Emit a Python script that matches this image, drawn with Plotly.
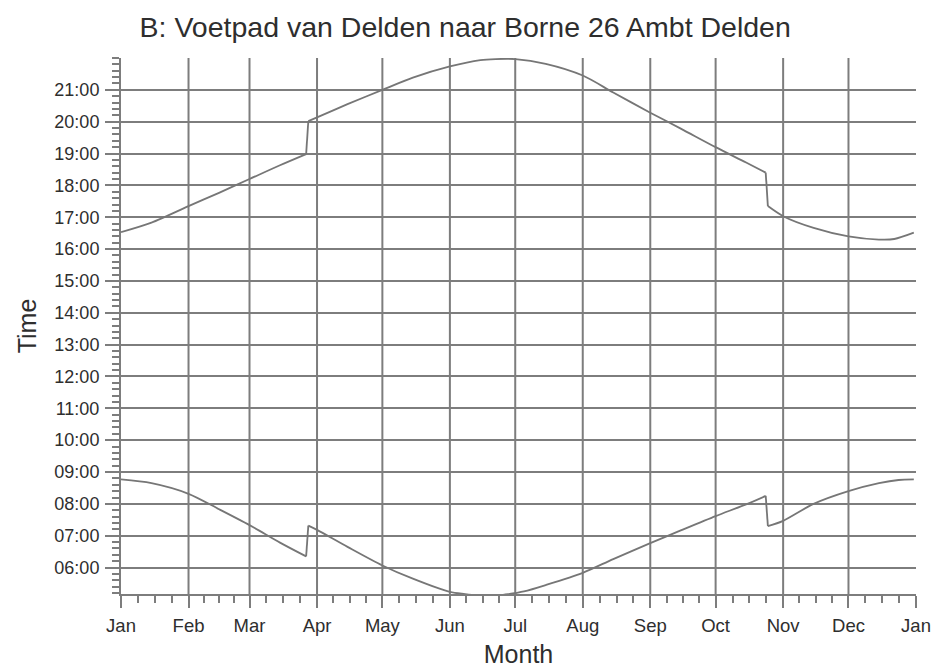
import pandas as pd
import plotly.graph_objects as go

# ---- data (times as HH:MM local clock time) ----
sunset_dates = ["2005-01-01", "2005-01-15", "2005-02-01", "2005-02-15", "2005-03-01",
                "2005-03-15", "2005-03-27", "2005-03-28", "2005-04-01", "2005-04-15",
                "2005-05-01", "2005-05-15", "2005-06-01", "2005-06-15", "2005-06-22",
                "2005-07-01", "2005-07-15", "2005-08-01", "2005-08-15", "2005-09-01",
                "2005-09-15", "2005-10-01", "2005-10-15", "2005-10-24", "2005-10-25",
                "2005-11-01", "2005-11-15", "2005-12-01", "2005-12-15", "2005-12-22",
                "2005-12-31"]
sunset_times = ["16:32", "16:50", "17:21", "17:46", "18:12",
                "18:38", "18:59", "20:01", "20:08", "20:33",
                "21:00", "21:23", "21:44", "21:56", "21:58",
                "21:58", "21:49", "21:27", "20:55", "20:17",
                "19:47", "19:12", "18:43", "18:24", "17:21",
                "17:02", "16:40", "16:24", "16:18", "16:19",
                "16:31"]

sunrise_dates = ["2005-01-01", "2005-01-15", "2005-02-01", "2005-02-15", "2005-03-01",
                 "2005-03-15", "2005-03-27", "2005-03-28", "2005-04-01", "2005-04-15",
                 "2005-05-01", "2005-05-15", "2005-06-01", "2005-06-08", "2005-06-15",
                 "2005-06-22", "2005-06-28", "2005-07-01", "2005-07-05", "2005-07-15",
                 "2005-08-01", "2005-08-15", "2005-09-01", "2005-09-15", "2005-10-01",
                 "2005-10-15", "2005-10-24", "2005-10-25", "2005-11-01", "2005-11-15",
                 "2005-12-01", "2005-12-15", "2005-12-24", "2005-12-31"]
sunrise_times = ["08:46", "08:39", "08:19", "07:50", "07:20",
                 "06:47", "06:21", "07:19", "07:11", "06:39",
                 "06:04", "05:39", "05:14", "05:10", "05:07",
                 "05:07", "05:10", "05:12", "05:15", "05:27",
                 "05:50", "06:16", "06:46", "07:10", "07:37",
                 "07:59", "08:15", "07:18", "07:28", "08:00",
                 "08:24", "08:39", "08:45", "08:46"]

hour_ticks = list(range(6, 22))
hour_labels = [f"{h:02d}:00" for h in hour_ticks]

title_text = "B: Voetpad van Delden naar Borne 26 Ambt Delden"


def to_hours(t):
    h, m = t.split(":")
    return int(h) + int(m) / 60.0


months = pd.date_range("2005-01-01", "2006-01-01", freq="MS")
# minor x ticks: each month split in four
minor_x = []
for a, b in zip(months[:-1], months[1:]):
    for k in (1, 2, 3):
        minor_x.append(a + (b - a) * k / 4)

line_col = "#767676"
grid_col = "#7d7d7d"
text_col = "#2e2e2e"

fig = go.Figure()


def add_curve(dates, times):
    """Smooth segments between the clock-change jumps, straight jump lines."""
    d = pd.to_datetime(dates)
    v = [to_hours(t) for t in times]
    cuts = [0]
    for i in range(1, len(v)):
        if (d[i] - d[i - 1]).days == 1 and abs(v[i] - v[i - 1]) > 0.5:
            cuts.append(i)
    cuts.append(len(v))
    for a, b in zip(cuts[:-1], cuts[1:]):
        fig.add_trace(go.Scatter(x=d[a:b], y=v[a:b], mode="lines",
                                 line=dict(color=line_col, width=1.8,
                                           shape="spline", smoothing=0.8),
                                 hoverinfo="skip"))
    for c in cuts[1:-1]:
        fig.add_trace(go.Scatter(x=d[c - 1:c + 1], y=v[c - 1:c + 1], mode="lines",
                                 line=dict(color=line_col, width=1.8),
                                 hoverinfo="skip"))


add_curve(sunset_dates, sunset_times)
add_curve(sunrise_dates, sunrise_times)

# vertical month gridlines (not at the right-hand edge, as in the reference)
for m in months[1:-1]:
    fig.add_shape(type="line", xref="x", yref="paper", x0=m, x1=m, y0=0, y1=1,
                  line=dict(color=grid_col, width=2), layer="below")

fig.update_layout(
    width=936, height=668,
    margin=dict(l=121, r=20, t=58, b=74),
    plot_bgcolor="white", paper_bgcolor="white",
    showlegend=False,
    font=dict(family="Liberation Sans, Arial, sans-serif", color=text_col),
    title=dict(text=title_text, x=0.497, xref="container", xanchor="center",
               y=1 - 27 / 668, yref="container", yanchor="middle",
               font=dict(size=28.5, color=text_col)),
)

fig.update_xaxes(
    type="date", range=["2005-01-01", "2006-01-01"],
    tickmode="array", tickvals=list(months), tickformat="%b",
    showgrid=False, automargin=False,
    showline=True, linecolor=grid_col, linewidth=2,
    ticks="outside", ticklen=12, tickwidth=2, tickcolor=grid_col,
    tickfont=dict(size=18.5, color=text_col), ticklabelstandoff=2,
    minor=dict(tickmode="array", tickvals=minor_x, ticks="outside",
               ticklen=7, tickwidth=1.5, tickcolor=grid_col, showgrid=False),
    zeroline=False,
    title=dict(text="Month", font=dict(size=25, color=text_col), standoff=10),
)

fig.update_yaxes(
    range=[5.17, 22.0], automargin=False,
    tickmode="array", tickvals=hour_ticks, ticktext=hour_labels,
    showgrid=True, gridcolor=grid_col, gridwidth=2,
    showline=True, linecolor=grid_col, linewidth=2,
    ticks="outside", ticklen=14, tickwidth=2, tickcolor=grid_col,
    tickfont=dict(size=18, color=text_col), ticklabelstandoff=2,
    minor=dict(dtick=0.2, tick0=0, ticks="outside", ticklen=7,
               tickwidth=1.5, tickcolor=grid_col, showgrid=False),
    zeroline=False,
    title=dict(text="Time", font=dict(size=25, color=text_col), standoff=11),
)

fig.write_html(
    "out.html",
    config={"displayModeBar": False},
    post_script="document.body.style.margin='0';"
                "document.body.style.overflow='hidden';",
)
